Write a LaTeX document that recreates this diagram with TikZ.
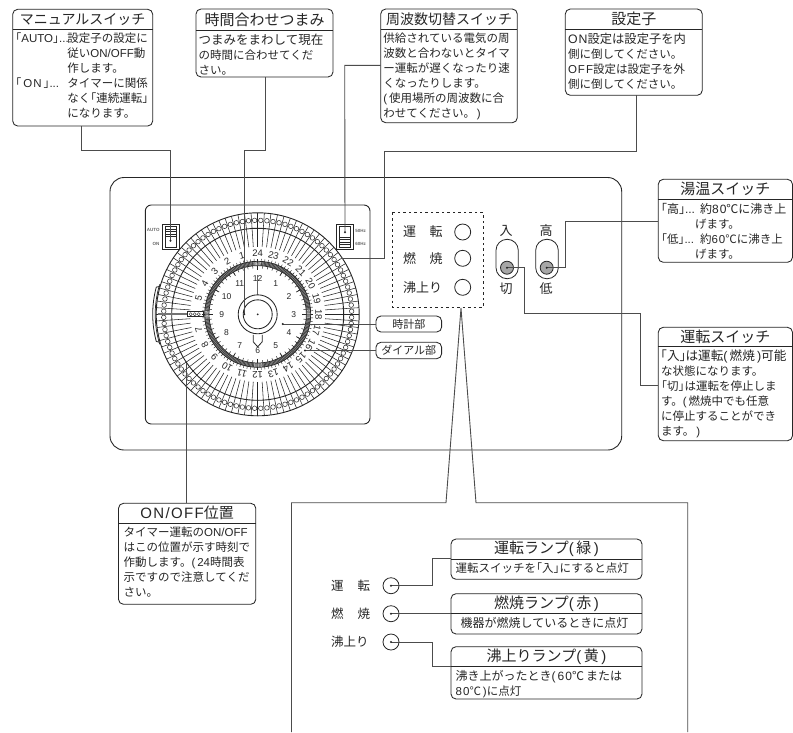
\documentclass[tikz,border=0pt]{standalone}
\usepackage{fontspec}
\setmainfont{Noto Sans CJK JP}
\newfontfamily\latf{Liberation Sans}
\newfontfamily\latsf[LetterSpace=9]{Liberation Sans}
\newcommand\lat[1]{{\latf #1}}
\newcommand\lats[1]{{\latsf #1}}
\newcommand\fz[2]{{\fontsize{#1}{#1}\selectfont #2}}
\newcommand\lbk{\makebox[6pt][r]{「}}
\newcommand\rbk{\makebox[6pt][l]{」}}
\newcommand\ind[1]{\makebox[#1pt][l]{}}
\colorlet{ink}{black!85}
\colorlet{cline}{black!70}
\tikzset{
 x=1pt,y=-1pt,
 boxframe/.style={draw=ink,line width=.85pt,rounded corners=5pt,fill=white,inner sep=0pt,outer sep=0pt},
 conn/.style={draw=cline,line width=.9pt},
 divline/.style={draw=ink,line width=.75pt},
 titletext/.style={inner sep=0pt,text=ink,font=\fontsize{14}{14}\selectfont},
 bodytext/.style={inner sep=0pt,anchor=north west,align=left,text=ink,font=\fontsize{11.5}{15}\selectfont},
 lamptext/.style={inner sep=0pt,anchor=west,text=ink,font=\fontsize{12.5}{13}\selectfont},
 paneltext/.style={inner sep=0pt,text=ink,font=\fontsize{13}{13}\selectfont},
 lampc/.style={circle,draw=ink,line width=.8pt,minimum size=16pt,inner sep=0pt,outer sep=0pt},
 tinytext/.style={inner sep=0pt,text=black!60,font=\latf\bfseries\fontsize{4.5}{5}\selectfont},
 pdot/.style={circle,fill=ink,minimum size=2pt,inner sep=0pt},
}
% name, x1, y1, x2, y2, ydiv, title, body
\newcommand\infobox[8]{%
  \node[boxframe,anchor=north west,minimum width=#4pt-#2pt,minimum height=#5pt-#3pt] (#1) at (#2,#3) {};
  \draw[divline] (#2,#6) -- (#4,#6);
  \node[titletext] (#1-t) at ({(#2+#4)/2},{(#3+#6)/2}) {#7};
  \node[bodytext] (#1-b) at ({#2+2.5},{#6+3.5}) {#8};
}
\begin{document}
\begin{tikzpicture}
\useasboundingbox (0,0) rectangle (793,732);
\fill[white] (0,0) rectangle (793,732);

% appliance panel
\draw[ink,line width=.9pt,rounded corners=14pt] (110,177.5) rectangle (621.7,450);
\draw[ink,line width=.9pt,rounded corners=6pt] (145.3,205) rectangle (370,424);

% dial
\begin{scope}[shift={(257.7,314.3)},y=1pt]
  \draw[ink,line width=.8pt] (165:105) arc (165:195:105) (196:101.5) -- (195:105) (164:101.5) -- (165:105);
  \draw[ink,line width=.7pt] (163:102.5) arc (163:197:102.5);
  \draw[ink,line width=.9pt] (0,0) circle (101.5);
  \draw[ink,line width=.9pt] (0,0) circle (86);
  \foreach \a in {0,3.75,...,356.3} {
    \draw[ink,line width=.55pt] (\a:101.5) -- (\a:67.6);
  }
  \foreach \a in {1.875,5.625,...,358.2} {
    \draw[ink,line width=.5pt,fill=white] (\a:94) circle (2.3);
  }
  % 24 hour numbers
  \foreach \h in {1,2,3,4,5,7,8,9,10,11,12,13,14,15,16,17,18,19,20,21,22,23,24} {
    \pgfmathsetmacro\ang{90-(24-\h)*15}
    \node[inner sep=0pt,text=ink,rotate=\ang-90,font=\latf\fontsize{9.5}{10}\selectfont] (out\h) at (\ang:61) {\h};
  }
  % setting position marker
  \draw[black!55,line width=1.8pt] (180:100) -- (180:70);
  \draw[ink,line width=.6pt,fill=white] (-70.7,-2.3) rectangle (-54.7,2.6);
  \foreach \xx in {-67,-63,-59} {\draw[ink,line width=.4pt] (\xx,0.1) circle (1.6);}
  % hatched ring
  \fill[black!45] (0,0) circle (53);
  \foreach \a in {0,1.5,...,358.5} {
    \draw[black!85,line width=.45pt] (\a:53) -- (\a:48.7);
  }
  \foreach \a in {-4,-2.5,...,4} {
    \foreach \q in {0,90,180,270} {
      \draw[white,line width=.35pt] (\a+\q+.75:53) -- (\a+\q+.75:48.7);
    }
  }
  \draw[ink,line width=.7pt] (0,0) circle (53);
  \fill[white] (0,0) circle (48.7);
  \draw[ink,line width=.7pt] (0,0) circle (48.7);
  \foreach \a in {0,3.75,...,356.3} {\draw[ink,line width=.45pt] (\a:53) -- (\a:55.5);}
  \foreach \a in {0,6,...,354} {\draw[ink,line width=.5pt] (\a:48.7) -- (\a:46);}
  \foreach \a in {0,30,...,330} {\draw[ink,line width=.7pt] (\a:48.7) -- (\a:44.5);}
  % clock numbers
  \foreach \h in {1,...,12} {
    \node[inner sep=0pt,text=ink,font=\latf\fontsize{8.5}{9}\selectfont] (hr\h) at ({90-\h*30}:36) {\h};
  }
  % knob
  \draw[black!60,line width=1pt] (0,39) -- (0,19.5);
  \draw[ink,line width=.85pt,fill=white] (0,0) circle (19.5);
  \draw[ink,line width=.85pt] (0,0) circle (14.5);
  \draw[ink,line width=.8pt,fill=white] (-4.5,-20.5) -- (-4.5,-27.5) -- (0,-32.5) -- (4.5,-27.5) -- (4.5,-20.5);
  \node[pdot] (knobc) at (0,0) {};
\end{scope}

% mode switches on the clock panel
\foreach \n/\xa/\ydot in {auto/162.7/240.7,freq/336.7/232.3} {
  \draw[ink,line width=.8pt,fill=white] (\xa,224) rectangle (\xa+16.3,249.5);
  \draw[ink,line width=.5pt] (\xa+2.5,226.5) rectangle (\xa+13.8,247);
}
\foreach \yy in {229,231.5,234,236.5} {\draw[ink,line width=.4pt] (165.2,\yy) -- (176.5,\yy);}
\foreach \yy in {237,239.5,242,244.5} {\draw[ink,line width=.4pt] (339.2,\yy) -- (350.5,\yy);}
\node[tinytext] (lauto) at (153.3,230) {AUTO};
\node[tinytext] (lon) at (156,244) {ON};
\node[tinytext] (l50) at (360.7,231.3) {50Hz};
\node[tinytext] (l60) at (360.7,244) {60Hz};

% lamps in the panel
\draw[ink,line width=.7pt,dash pattern=on 2.5pt off 3pt] (392,212.7) rectangle (483.3,307);
\node[paneltext,anchor=west] (t1) at (403,232) {運\hspace{13.5pt}転};
\node[paneltext,anchor=west] (t2) at (403,258.3) {燃\hspace{13.5pt}焼};
\node[paneltext,anchor=west] (t3) at (403,287.3) {沸上り};
\node[lampc] (l1) at (462.7,232) {};
\node[lampc] (l2) at (462.7,258.3) {};
\node[lampc] (l3) at (462.7,287.3) {};

% rocker switches
\node[paneltext] (in) at (506,231) {入};
\node[paneltext] (off) at (506,288.3) {切};
\node[paneltext] (hi) at (546,231) {高};
\node[paneltext] (lo) at (546,288.3) {低};
\draw[ink,line width=.8pt,rounded corners=11pt] (496,239.3) rectangle (518.3,278.7);
\draw[ink,line width=.8pt,rounded corners=11pt] (535.7,239.3) rectangle (558.3,278.7);
\node[circle,draw=ink,fill=black!35,line width=.8pt,minimum size=13pt,inner sep=0pt] (swa) at (507,267.7) {};
\node[circle,draw=ink,fill=black!35,line width=.8pt,minimum size=13pt,inner sep=0pt] (swb) at (546.7,267.7) {};

% callout for lamp detail
\coordinate (ap) at (461,308);
\coordinate (fa) at (446,502.7);
\coordinate (fb) at (476,502.7);
\coordinate (fc) at (291.5,502.7);
\coordinate (fd) at (687.7,502.7);
\coordinate (fe) at (291.5,732);
\coordinate (ff) at (687.7,732);
\draw[conn] (fe) -- (fc) -- (fa) -- (ap) -- (fb) -- (fd) -- (ff);

% information boxes
\infobox{bman}{12.7}{9.3}{152.7}{126}{29.3}{マニュアルスイッチ}{%
\makebox[52pt][l]{\lbk\lat{AUTO}\rbk\lat{...}}設定子の設定に\\
\ind{52}従い\lat{ON/OFF}動\\
\ind{52}作します。\\
\makebox[52pt][l]{\lbk\,\lats{ON}\,\rbk\lat{...}}タイマーに関係\\
\ind{52}なく\lbk 連続運転\rbk\\
\ind{52}になります。}
\infobox{btime}{196}{9}{333}{77}{30}{\fz{15}{時間合わせつまみ}}{\fontsize{12.5}{15.5}\selectfont%
つまみをまわして現在\\
の時間に合わせてくだ\\
さい。}
\infobox{bfreq}{380.7}{9}{517.3}{122.7}{29}{周波数切替スイッチ}{%
供給されている電気の周\\
波数と合わないとタイマ\\
ー運転が遅くなったり速\\
くなったりします。\\
\lat{(}\,使用場所の周波数に合\\
わせてください。\,\lat{)}}
\infobox{bset}{565.3}{9}{702.3}{95.3}{29}{\fz{15}{設定子}}{\fontsize{12.3}{15}\selectfont%
\lats{ON}設定は設定子を内\\
側に倒してください。\\
\lats{OFF}設定は設定子を外\\
側に倒してください。}
\infobox{bwat}{658.3}{179.3}{792.5}{262.3}{199.3}{\fz{15}{湯温スイッチ}}{\fontsize{12}{15}\selectfont%
\makebox[39pt][l]{\lbk 高\rbk\lat{...}}約\lats{80}℃に沸き上\\
\ind{34}げます。\\
\makebox[39pt][l]{\lbk 低\rbk\lat{...}}約\lats{60}℃に沸き上\\
\ind{34}げます。}
\infobox{brun}{658.3}{327.3}{792.5}{440.7}{346}{\fz{15}{運転スイッチ}}{\fontsize{12.6}{15}\selectfont%
\lbk 入\rbk は運転\lat{(}\,燃焼\,\lat{)}可能\\
な状態になります。\\
\lbk 切\rbk は運転を停止しま\\
す。\lat{(}\,燃焼中でも任意\\
に停止することができ\\
ます。\,\lat{)}}
\infobox{bpos}{118.5}{503.3}{255.8}{604.3}{523.3}{\fz{15}{\lats{ON/OFF}位置}}{\fontsize{11.5}{15}\selectfont%
\ind{2.5}タイマー運転の\lat{ON/OFF}\\
\ind{2.5}はこの位置が示す時刻で\\
\ind{2.5}作動します。\lat{(}\,\lat{24}時間表\\
\ind{2.5}示ですので注意してくだ\\
\ind{2.5}さい。}
\infobox{la}{451}{539}{642}{579.3}{559.3}{\fz{15}{運転ランプ\lat{(}\,緑\,\lat{)}}}{\fontsize{11.5}{15}\selectfont%
\ind{2}運転スイッチを\lbk 入\rbk にすると点灯}
\infobox{lb}{451}{593.7}{642}{634}{613.7}{\fz{15}{燃焼ランプ\lat{(}\,赤\,\lat{)}}}{\fontsize{12}{15}\selectfont%
\ind{7}機器が燃焼しているときに点灯}
\infobox{lc}{451}{646.7}{642}{699}{666.7}{\fz{15}{沸上りランプ\lat{(}\,黄\,\lat{)}}}{\fontsize{12}{14.3}\selectfont%
\ind{2}沸き上がったとき\lat{(}\,\lats{60}℃\,または\\
\ind{2}\lats{80}℃\,\lat{)}に点灯}

% small labels
\node[boxframe,minimum width=65.7pt,minimum height=16pt,text=ink,font=\fontsize{11}{11}\selectfont] (lclock) at (408.8,324) {時計部};
\node[boxframe,minimum width=65.7pt,minimum height=16.4pt,text=ink,font=\fontsize{11}{11}\selectfont] (ldial) at (408.8,350.5) {ダイアル部};

% lower lamps
\node[lamptext] (u1) at (331,585.7) {運\hspace{14pt}転};
\node[lamptext] (u2) at (331,613.7) {燃\hspace{14pt}焼};
\node[lamptext] (u3) at (331,642) {沸上り};
\node[lampc] (d1) at (391,585.7) {};
\node[lampc] (d2) at (391,613.7) {};
\node[lampc] (d3) at (391,642) {};

% named connector ends
\coordinate (e1) at (170.5,240.7);
\coordinate (e2) at (244.3,314.3);
\coordinate (e3) at (345,232.3);
\coordinate (e4) at (341.7,258.7);
\coordinate (e5) at (282.7,324);
\coordinate (e6) at (305,350.5);
\coordinate (e7) at (186,363);
\coordinate (c1) at (81.3,150);
\coordinate (c2) at (265.3,150);
\coordinate (c3) at (344.7,65.3);
\coordinate (c4) at (636.7,151.7);
\coordinate (c4b) at (384,258.7);
\coordinate (c5) at (565,221);
\coordinate (c6) at (524.3,313.7);
\coordinate (c6b) at (640,385.7);
\coordinate (c7) at (432,558.7);
\coordinate (c8) at (432,666.7);

\draw[conn] (bman.south -| c1) -- (c1) -| (e1);
\draw[conn] (btime.south -| c2) -- (c2) -| (e2);
\draw[conn] (bfreq.west |- c3) -- (c3) -- (e3);
\draw[conn] (bset.south -| c4) -- (c4) -| (c4b) -- (e4);
\draw[conn] (lclock.west) -- (e5);
\draw[conn] (ldial.west) -- (e6);
\draw[conn] (bpos.north -| e7) -- (e7);
\draw[conn] (swb.center) -| (c5) |- (bwat.west |- c5);
\draw[conn] (swa.center) -| (c6) -| (c6b) -- (brun.west |- c6b);
\draw[conn] (d1.center) -| (c7) -- (la.west |- c7);
\draw[conn] (d2.center) -- (lb.west |- d2);
\draw[conn] (d3.center) -| (c8) -- (lc.west |- c8);

% end dots
\foreach \p in {e1,e2,e3,e5,e6,swa,swb,d1,d2,d3}{\fill[ink] (\p) circle (1.1);}
\end{tikzpicture}
\end{document}
